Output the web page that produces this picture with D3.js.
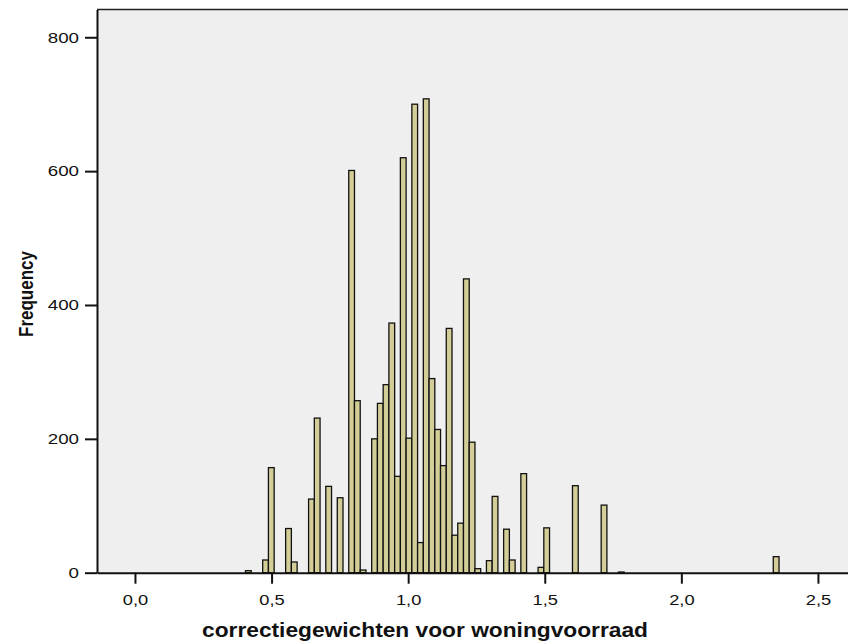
<!DOCTYPE html>
<html>
<head>
<meta charset="utf-8">
<script src="https://cdn.jsdelivr.net/npm/d3@7"></script>
<style>
  body { margin: 0; background: #fff; }
  svg { display: block; font-family: "Liberation Sans", Arial, sans-serif; }
</style>
</head>
<body>
<svg id="chart" width="848" height="644"></svg>
<script>
// histogram bins: left edge of first bin and common width (data units)
const binStart = 0.4045;
const binWidth = 0.0210;
// frequency per bin, bin 0 starts at binStart
const counts = [
  3, 0, 0, 19, 157, 0, 0, 66, 16, 0,
  0, 110, 231, 0, 129, 0, 112, 0, 601, 257,
  4, 0, 200, 253, 281, 373, 144, 620, 201, 700,
  45, 708, 290, 214, 160, 365, 56, 74, 439, 195,
  6, 0, 18, 114, 0, 65, 19, 0, 148, 0,
  0, 8, 67, 0, 0, 0, 0, 130, 0, 0,
  0, 0, 101, 0, 0, 1, 0, 0, 0, 0,
  0, 0, 0, 0, 0, 0, 0, 0, 0, 0,
  0, 0, 0, 0, 0, 0, 0, 0, 0, 0,
  0, 0, 24
];
const xTicks = [0, 0.5, 1.0, 1.5, 2.0, 2.5];
const yTicks = [0, 200, 400, 600, 800];
const xTitle = 'correctiegewichten voor woningvoorraad';
const yTitle = 'Frequency';

const plotLeft = 97;
const plotRight = 848;
const plotTop = 9.5;
const plotBottom = 572.7;

const svg = d3.select('#chart');

const x = d3.scaleLinear().domain([-0.139, 2.61]).range([plotLeft, plotRight]);
const y = d3.scaleLinear().domain([0, 841.5]).range([plotBottom, plotTop]);

// plot background
svg.append('rect')
  .attr('x', plotLeft).attr('y', plotTop)
  .attr('width', plotRight - plotLeft).attr('height', plotBottom - plotTop)
  .attr('fill', '#efefef');

svg.append('line')
  .attr('x1', plotLeft).attr('x2', plotRight)
  .attr('y1', plotTop).attr('y2', plotTop)
  .attr('stroke', '#222').attr('stroke-width', 1.5);

const bins = counts.map((c, i) => ({
  x0: binStart + i * binWidth,
  x1: binStart + (i + 1) * binWidth,
  n: c,
})).filter(d => d.n > 0);

svg.append('g')
  .selectAll('rect')
  .data(bins)
  .join('rect')
  .attr('x', d => x(d.x0))
  .attr('width', d => x(d.x1) - x(d.x0))
  .attr('y', d => y(d.n))
  .attr('height', d => y(0) - y(d.n))
  .attr('fill', '#d3ce97')
  .attr('stroke', '#111')
  .attr('stroke-width', 1.3);

// stretch tick labels horizontally like the original
function stretch(sel, factor) {
  sel.each(function () {
    const w = this.getComputedTextLength();
    d3.select(this)
      .attr('textLength', w * factor)
      .attr('lengthAdjust', 'spacingAndGlyphs');
  });
}

const gx = svg.append('g')
  .attr('transform', `translate(0,${plotBottom})`)
  .call(d3.axisBottom(x)
    .tickValues(xTicks)
    .tickSize(11)
    .tickSizeOuter(0)
    .tickPadding(11)
    .tickFormat(d => d3.format('.1f')(d).replace('.', ',')));
gx.select('.domain').attr('stroke', '#111').attr('stroke-width', 2);
gx.selectAll('.tick line').attr('stroke', '#111').attr('stroke-width', 2);
gx.selectAll('.tick text')
  .attr('font-size', 15)
  .attr('font-family', '"Liberation Sans", Arial, sans-serif')
  .attr('fill', '#111')
  .call(stretch, 1.22);

const gy = svg.append('g')
  .attr('transform', `translate(${plotLeft},0)`)
  .call(d3.axisLeft(y)
    .tickValues(yTicks)
    .tickSize(12)
    .tickSizeOuter(0)
    .tickPadding(6));
gy.select('.domain').attr('stroke', '#111').attr('stroke-width', 2);
gy.selectAll('.tick line').attr('stroke', '#111').attr('stroke-width', 2);
gy.selectAll('.tick text')
  .attr('font-size', 15)
  .attr('font-family', '"Liberation Sans", Arial, sans-serif')
  .attr('fill', '#111')
  .call(stretch, 1.25);

// axis titles
svg.append('text')
  .attr('x', 425)
  .attr('y', 637)
  .attr('text-anchor', 'middle')
  .attr('font-size', 20)
  .attr('font-weight', 'bold')
  .attr('fill', '#111')
  .attr('textLength', 446)
  .attr('lengthAdjust', 'spacingAndGlyphs')
  .text(xTitle);

svg.append('text')
  .attr('transform', 'translate(33,294) rotate(-90)')
  .attr('text-anchor', 'middle')
  .attr('font-size', 20)
  .attr('font-weight', 'bold')
  .attr('fill', '#111')
  .attr('textLength', 86)
  .attr('lengthAdjust', 'spacingAndGlyphs')
  .text(yTitle);
</script>
</body>
</html>
